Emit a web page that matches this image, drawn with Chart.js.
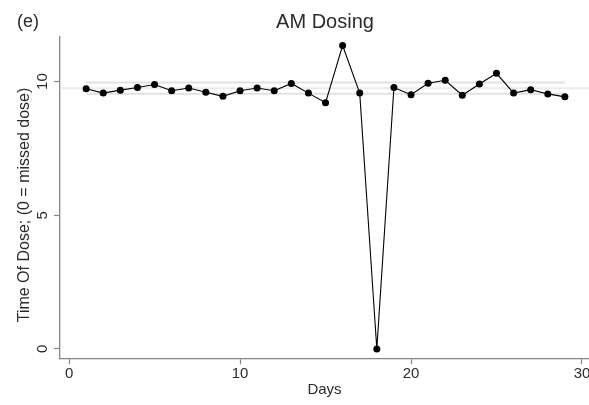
<!DOCTYPE html>
<html>
<head>
<meta charset="utf-8">
<script src="https://cdn.jsdelivr.net/npm/chart.js@4/dist/chart.umd.min.js"></script>
<style>
  html, body { margin: 0; padding: 0; background: #fff; }
  #wrap { width: 589px; height: 405px; }
</style>
</head>
<body>
<div id="wrap"><canvas id="amDosing"></canvas></div>
<script>
// daily dose times, day 18 is a missed dose
var days = [1, 2, 3, 4, 5, 6, 7, 8, 9, 10, 11, 12, 13, 14, 15, 16, 17, 18, 19, 20, 21, 22, 23, 24, 25, 26, 27, 28, 29];
var doseTime = [9.73, 9.57, 9.68, 9.78, 9.89, 9.66, 9.76, 9.60, 9.45, 9.66, 9.76, 9.66, 9.93, 9.57, 9.21,
  11.35, 9.57, 0, 9.78, 9.51, 9.94, 10.05, 9.49, 9.91, 10.31, 9.57, 9.70, 9.54, 9.43];

// reference levels
var bandUpper = 9.97;
var bandMean = 9.75;
var bandLower = 9.55;

var xTicks = [0, 10, 20, 30];
var yTicks = [0, 5, 10];

var xMin = -0.53, xMax = 30.41;
var yMin = -0.35, yMax = 11.68;

var FONT = "'Liberation Sans', Arial, Helvetica, sans-serif";
var axisGray = "#858585";
var textColor = "#2b2b2b";

var points = days.map(function (d, i) { return { x: d, y: doseTime[i] }; });
var firstDay = days[0];
var lastDay = days[days.length - 1];

// titles and rotated y labels, Stata style
var textPlugin = {
  id: "stataText",
  afterDraw: function (chart) {
    var ctx = chart.ctx;
    var yScale = chart.scales.y;
    ctx.save();
    ctx.fillStyle = textColor;
    ctx.textBaseline = "alphabetic";

    ctx.font = "18px " + FONT;
    ctx.textAlign = "left";
    ctx.fillText("(e)", 17, 26.5);

    ctx.font = "20px " + FONT;
    ctx.textAlign = "center";
    ctx.fillText("AM Dosing", 325, 28.3);

    ctx.font = "15px " + FONT;
    yTicks.forEach(function (v) {
      var py = yScale.getPixelForValue(v);
      ctx.save();
      ctx.translate(47, py);
      ctx.rotate(-Math.PI / 2);
      ctx.fillText(String(v), 0, 0);
      ctx.restore();
    });

    ctx.font = "16px " + FONT;
    ctx.translate(28.5, 205);
    ctx.rotate(-Math.PI / 2);
    ctx.fillText("Time Of Dose; (0 = missed dose)", 0, 0);
    ctx.restore();
  }
};

var ctx = document.getElementById("amDosing");

new Chart(ctx, {
  type: "line",
  data: {
    datasets: [
      {
        label: "Dose time",
        data: points,
        borderColor: "#000",
        borderWidth: 1.1,
        backgroundColor: "#000",
        pointRadius: 3.5,
        pointBackgroundColor: "#000",
        pointBorderWidth: 0,
        tension: 0,
      },
      {
        label: "Upper",
        data: [{ x: firstDay, y: bandUpper }, { x: lastDay, y: bandUpper }],
        borderColor: "#e1e1e1",
        borderWidth: 2,
        pointRadius: 0,
      },
      {
        label: "Mean",
        data: [{ x: xMin, y: bandMean }, { x: xMax, y: bandMean }],
        borderColor: "#ebebeb",
        borderWidth: 2,
        pointRadius: 0,
      },
      {
        label: "Lower",
        data: [{ x: firstDay, y: bandLower }, { x: lastDay, y: bandLower }],
        borderColor: "#e1e1e1",
        borderWidth: 2,
        pointRadius: 0,
      },
    ],
  },
  options: {
    responsive: true,
    maintainAspectRatio: false,
    animation: false,
    devicePixelRatio: 1,
    layout: {
      autoPadding: false,
      padding: { top: 36.7, right: 0, bottom: 0, left: 0 },
    },
    plugins: {
      legend: { display: false },
      tooltip: { enabled: false },
    },
    scales: {
      x: {
        type: "linear",
        min: xMin,
        max: xMax,
        afterBuildTicks: function (scale) {
          scale.ticks = xTicks.map(function (v) { return { value: v }; });
        },
        afterFit: function (scale) {
          scale.height = 46.7;
          // let the axis run to the canvas edge
          scale.paddingLeft = 0;
          scale.paddingRight = 0;
        },
        grid: {
          drawOnChartArea: false,
          drawTicks: true,
          tickLength: 6,
          color: axisGray,
          tickColor: axisGray,
          tickWidth: 1.2,
        },
        border: { color: axisGray, width: 1.3 },
        ticks: {
          color: textColor,
          font: { family: FONT, size: 15 },
          padding: 1,
          maxRotation: 0,
          autoSkip: false,
        },
        title: {
          display: true,
          text: "Days",
          color: textColor,
          font: { family: FONT, size: 15 },
          padding: { top: 0, bottom: 6 },
        },
      },
      y: {
        type: "linear",
        min: yMin,
        max: yMax,
        afterBuildTicks: function (scale) {
          scale.ticks = yTicks.map(function (v) { return { value: v }; });
        },
        afterFit: function (scale) {
          scale.width = 60;
          scale.paddingTop = 0;
          scale.paddingBottom = 0;
        },
        grid: {
          drawOnChartArea: false,
          drawTicks: true,
          tickLength: 6,
          color: axisGray,
          tickColor: axisGray,
          tickWidth: 1.2,
        },
        border: { color: axisGray, width: 1.3 },
        ticks: { display: false },
      },
    },
  },
  plugins: [textPlugin],
});
</script>
</body>
</html>
